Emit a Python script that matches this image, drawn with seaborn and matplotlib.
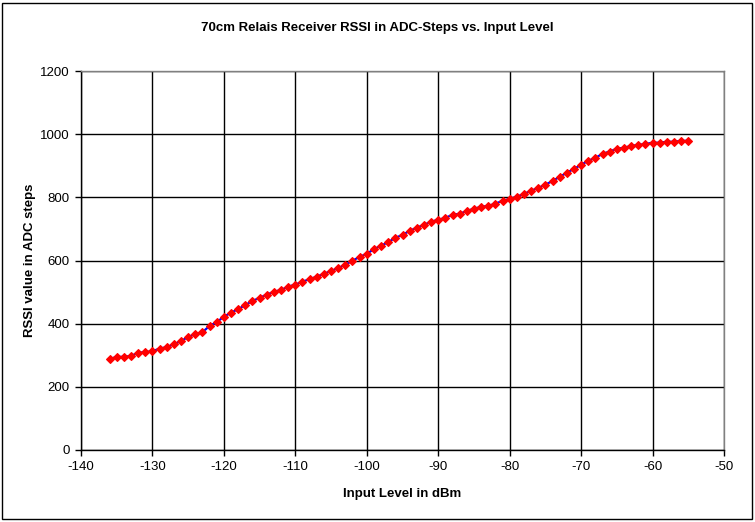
import matplotlib
matplotlib.use("Agg")
import matplotlib.pyplot as plt
from matplotlib.patches import Rectangle
import seaborn as sns
import pandas as pd

input_level_dbm = [
    -136, -135, -134, -133, -132, -131, -130, -129, -128, -127,
    -126, -125, -124, -123, -122, -121, -120, -119, -118, -117,
    -116, -115, -114, -113, -112, -111, -110, -109, -108, -107,
    -106, -105, -104, -103, -102, -101, -100, -99, -98, -97,
    -96, -95, -94, -93, -92, -91, -90, -89, -88, -87,
    -86, -85, -84, -83, -82, -81, -80, -79, -78, -77,
    -76, -75, -74, -73, -72, -71, -70, -69, -68, -67,
    -66, -65, -64, -63, -62, -61, -60, -59, -58, -57,
    -56, -55,
]
rssi_adc_steps = [
    288, 295, 295, 298, 308, 310, 313, 321, 326, 335,
    345, 358, 367, 373, 393, 405, 422, 435, 446, 459,
    472, 482, 492, 501, 507, 517, 524, 533, 541, 549,
    558, 567, 576, 587, 599, 612, 621, 636, 647, 658,
    672, 681, 694, 704, 713, 723, 729, 735, 745, 748,
    757, 764, 770, 773, 780, 789, 795, 802, 811, 821,
    830, 840, 852, 865, 878, 890, 903, 916, 925, 938,
    945, 954, 957, 963, 966, 969, 973, 973, 976, 976,
    979, 979,
]
x_ticks = [-140, -130, -120, -110, -100, -90, -80, -70, -60, -50]
y_ticks = [0, 200, 400, 600, 800, 1000, 1200]

title = "70cm Relais Receiver RSSI in ADC-Steps vs. Input Level"
x_label = "Input Level in dBm"
y_label = "RSSI value in ADC steps"

df = pd.DataFrame({"level": input_level_dbm, "rssi": rssi_adc_steps})

sns.set_theme(style="white")
plt.rcParams["font.family"] = ["Liberation Sans", "DejaVu Sans"]

W, H = 755, 522
fig = plt.figure(figsize=(W / 100, H / 100), dpi=100)
fig.patch.set_facecolor("white")

left, right, top, bottom = 81, 724, 71, 450
ax = fig.add_axes([left / W, (H - bottom) / H, (right - left) / W, (bottom - top) / H])
ax.set_facecolor("white")

sns.lineplot(data=df, x="level", y="rssi", ax=ax, color="#0000ff", linewidth=1.6,
             marker="D", markersize=3.7, markerfacecolor="#ff0000",
             markeredgecolor="#ff0000", markeredgewidth=0.8, zorder=3)

ax.set_xlim(-140, -50)
ax.set_ylim(0, 1200)
ax.set_xticks(x_ticks)
ax.set_yticks(y_ticks)
ax.set_xticklabels([str(t) for t in x_ticks])
ax.set_yticklabels([str(t) for t in y_ticks])

ax.grid(True, color="black", linewidth=1.0)
ax.set_axisbelow(True)
for s in ["left", "bottom"]:
    ax.spines[s].set_color("black")
    ax.spines[s].set_linewidth(1.0)
for s in ["top", "right"]:
    ax.spines[s].set_color("#808080")
    ax.spines[s].set_linewidth(1.0)

ax.tick_params(axis="both", direction="out", length=4, width=1.0, color="black",
               labelsize=9.5, labelcolor="black", pad=4, bottom=True, left=True)

ax.set_xlabel(x_label, fontsize=9.5, fontweight="bold", color="black", labelpad=11)
ax.set_ylabel(y_label, fontsize=9.5, fontweight="bold", color="black", labelpad=3)

fig.text(377 / W, 1 - 28 / H, title, ha="center", va="center",
         fontsize=9.5, fontweight="bold", color="black")

frame = Rectangle((1.5 / W, 3 / H), 750.5 / W, 516 / H, transform=fig.transFigure,
                  fill=False, edgecolor="black", linewidth=1.0)
fig.patches.append(frame)

fig.savefig("out.png", dpi=100, facecolor="white")
